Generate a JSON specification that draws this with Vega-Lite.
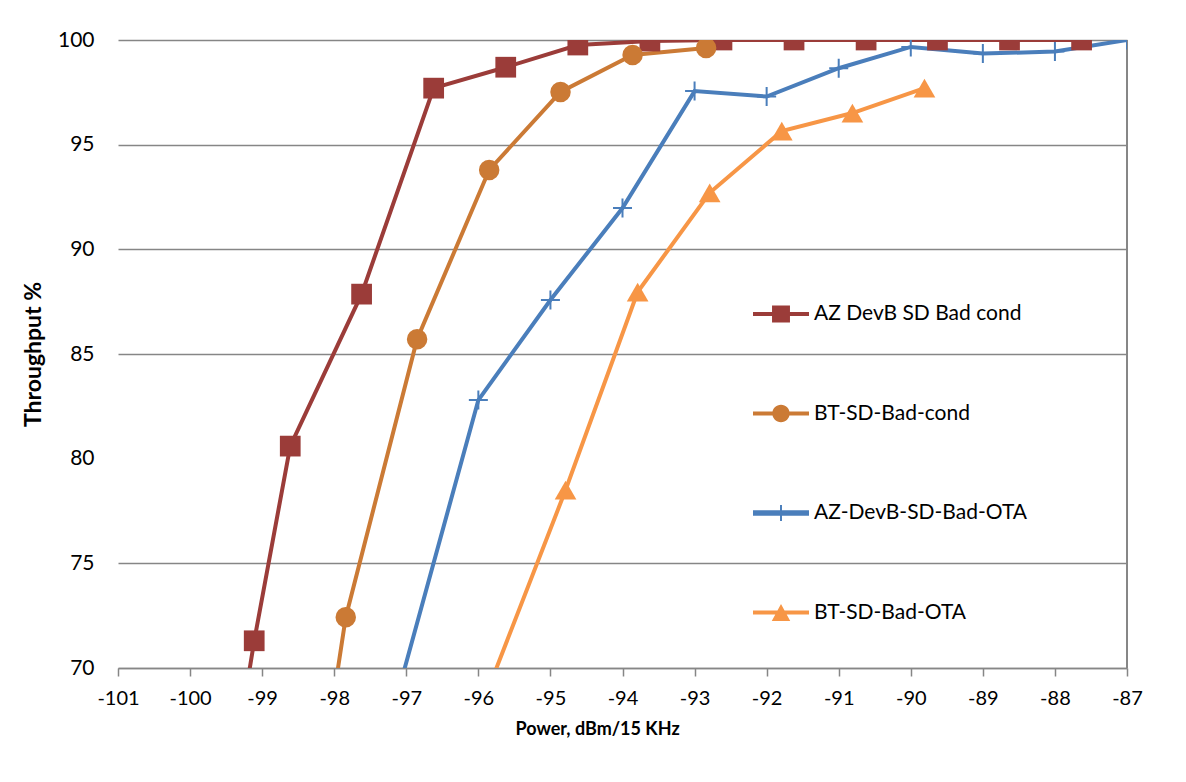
{
  "$schema": "https://vega.github.io/schema/vega-lite/v6.json",
  "width": 1009,
  "height": 628,
  "autosize": {"type": "none"},
  "padding": {"left": 118, "top": 40, "right": 59, "bottom": 114},
  "background": "white",
  "config": {"view": {"stroke": null}, "font": "Lato"},
  "data": {
    "values": [
      {"series": "AZ DevB SD Bad cond", "power": -99.5, "throughput": 63},
      {"series": "AZ DevB SD Bad cond", "power": -99.11, "throughput": 71.3},
      {"series": "AZ DevB SD Bad cond", "power": -98.61, "throughput": 80.6},
      {"series": "AZ DevB SD Bad cond", "power": -97.62, "throughput": 87.86},
      {"series": "AZ DevB SD Bad cond", "power": -96.62, "throughput": 97.7},
      {"series": "AZ DevB SD Bad cond", "power": -95.62, "throughput": 98.7},
      {"series": "AZ DevB SD Bad cond", "power": -94.62, "throughput": 99.76},
      {"series": "AZ DevB SD Bad cond", "power": -93.62, "throughput": 99.95},
      {"series": "AZ DevB SD Bad cond", "power": -92.62, "throughput": 100},
      {"series": "AZ DevB SD Bad cond", "power": -91.62, "throughput": 100},
      {"series": "AZ DevB SD Bad cond", "power": -90.62, "throughput": 100},
      {"series": "AZ DevB SD Bad cond", "power": -89.63, "throughput": 100},
      {"series": "AZ DevB SD Bad cond", "power": -88.63, "throughput": 100},
      {"series": "AZ DevB SD Bad cond", "power": -87.63, "throughput": 100},
      {"series": "BT-SD-Bad-cond", "power": -98.3, "throughput": 62},
      {"series": "BT-SD-Bad-cond", "power": -97.84, "throughput": 72.43},
      {"series": "BT-SD-Bad-cond", "power": -96.85, "throughput": 85.71},
      {"series": "BT-SD-Bad-cond", "power": -95.85, "throughput": 93.79},
      {"series": "BT-SD-Bad-cond", "power": -94.86, "throughput": 97.52},
      {"series": "BT-SD-Bad-cond", "power": -93.86, "throughput": 99.28},
      {"series": "BT-SD-Bad-cond", "power": -92.84, "throughput": 99.62},
      {"series": "AZ-DevB-SD-Bad-OTA", "power": -97.5, "throughput": 64},
      {"series": "AZ-DevB-SD-Bad-OTA", "power": -96, "throughput": 82.8},
      {"series": "AZ-DevB-SD-Bad-OTA", "power": -95, "throughput": 87.58},
      {"series": "AZ-DevB-SD-Bad-OTA", "power": -94, "throughput": 91.97},
      {"series": "AZ-DevB-SD-Bad-OTA", "power": -93, "throughput": 97.56},
      {"series": "AZ-DevB-SD-Bad-OTA", "power": -92, "throughput": 97.3},
      {"series": "AZ-DevB-SD-Bad-OTA", "power": -91, "throughput": 98.65},
      {"series": "AZ-DevB-SD-Bad-OTA", "power": -90, "throughput": 99.67},
      {"series": "AZ-DevB-SD-Bad-OTA", "power": -89, "throughput": 99.35},
      {"series": "AZ-DevB-SD-Bad-OTA", "power": -88, "throughput": 99.45},
      {"series": "AZ-DevB-SD-Bad-OTA", "power": -87, "throughput": 100},
      {"series": "BT-SD-Bad-OTA", "power": -96.2, "throughput": 66},
      {"series": "BT-SD-Bad-OTA", "power": -94.79, "throughput": 78.5},
      {"series": "BT-SD-Bad-OTA", "power": -93.79, "throughput": 87.96},
      {"series": "BT-SD-Bad-OTA", "power": -92.79, "throughput": 92.7},
      {"series": "BT-SD-Bad-OTA", "power": -91.79, "throughput": 95.65},
      {"series": "BT-SD-Bad-OTA", "power": -90.81, "throughput": 96.51},
      {"series": "BT-SD-Bad-OTA", "power": -89.81, "throughput": 97.7}
    ]
  },
  "layer": [
    {
      "mark": {"type": "rule", "color": "#868686", "strokeWidth": 1},
      "encoding": {
        "x": {"datum": -87, "type": "quantitative"}
      }
    },
    {
      "mark": {"type": "line", "strokeWidth": 4, "clip": true},
      "encoding": {
        "x": {
          "field": "power",
          "type": "quantitative",
          "scale": {"domain": [-101, -87], "nice": false, "zero": false},
          "axis": {
            "values": [-101, -100, -99, -98, -97, -96, -95, -94, -93, -92, -91, -90, -89, -88, -87],
            "labelExpr": "'' + datum.value",
            "title": "Power, dBm/15 KHz",
            "grid": false,
            "domainColor": "#868686",
            "domainWidth": 1.5,
            "tickColor": "#868686",
            "tickWidth": 1.5,
            "tickSize": 8,
            "labelFontSize": 20,
            "labelColor": "#000000",
            "labelPadding": 12,
            "labelFlush": false,
            "labelOverlap": false,
            "titleFontSize": 18,
            "titleFontWeight": "bold",
            "titleColor": "#000000",
            "titlePadding": 12,
            "titleAnchor": "start",
            "titleX": 397
          }
        },
        "y": {
          "field": "throughput",
          "type": "quantitative",
          "scale": {"domain": [70, 100], "nice": false, "zero": false},
          "axis": {
            "values": [70, 75, 80, 85, 90, 95, 100],
            "title": "Throughput %",
            "domain": false,
            "ticks": false,
            "grid": true,
            "gridColor": "#868686",
            "gridWidth": 1.5,
            "gridOpacity": {"condition": {"test": "datum.value === 80", "value": 0}, "value": 1},
            "labelFontSize": 21,
            "labelColor": "#000000",
            "labelPadding": 24,
            "titleFontSize": 23,
            "titleFontWeight": "bold",
            "titleColor": "#000000",
            "titlePadding": 12
          }
        },
        "color": {
          "field": "series",
          "type": "nominal",
          "scale": {
            "domain": ["AZ DevB SD Bad cond", "BT-SD-Bad-cond", "AZ-DevB-SD-Bad-OTA", "BT-SD-Bad-OTA"],
            "range": ["#9b3c39", "#cb7a35", "#4a7ebb", "#f79646"]
          },
          "legend": {
            "orient": "none",
            "legendX": 635,
            "legendY": 246,
            "title": null,
            "padding": 0,
            "symbolSize": 3136,
            "symbolStrokeWidth": 0,
            "labelFontSize": 21,
            "labelColor": "#000000",
            "labelOffset": 5,
            "labelLimit": 400,
            "rowPadding": 61.5,
            "encode": {
              "symbols": {
                "update": {
                  "shape": {"signal": "datum.value == 'AZ DevB SD Bad cond' ? 'M-1,-0.07H1V0.07H-1Z M-0.32,-0.3H0.32V0.3H-0.32Z' : datum.value == 'BT-SD-Bad-cond' ? 'M-1,-0.07H1V0.07H-1Z M-0.31,0A0.31,0.31,0,1,1,0.31,0A0.31,0.31,0,1,1,-0.31,0Z' : datum.value == 'AZ-DevB-SD-Bad-OTA' ? 'M-1,-0.1H1V0.1H-1Z M-0.035,-0.29H0.035V0.29H-0.035Z' : 'M-1,-0.07H1V0.07H-1Z M0,-0.3L0.33,0.3L-0.33,0.3Z'"},
                  "fill": {"scale": "color", "field": "value"},
                  "stroke": {"value": "transparent"},
                  "strokeWidth": {"value": 0},
                  "opacity": {"value": 1}
                }
              }
            }
          }
        }
      }
    },
    {
      "transform": [{"filter": "datum.series == 'AZ DevB SD Bad cond'"}],
      "mark": {"type": "point", "shape": "square", "filled": true, "opacity": 1, "size": 430, "clip": true, "color": "#9b3c39"},
      "encoding": {
        "x": {"field": "power", "type": "quantitative"},
        "y": {"field": "throughput", "type": "quantitative"}
      }
    },
    {
      "transform": [{"filter": "datum.series == 'BT-SD-Bad-cond'"}],
      "mark": {"type": "point", "shape": "circle", "filled": true, "opacity": 1, "size": 420, "clip": true, "color": "#cb7a35"},
      "encoding": {
        "x": {"field": "power", "type": "quantitative"},
        "y": {"field": "throughput", "type": "quantitative"}
      }
    },
    {
      "transform": [{"filter": "datum.series == 'AZ-DevB-SD-Bad-OTA'"}],
      "mark": {"type": "point", "shape": "M-0.95,-0.1H0.95V0.1H-0.95Z M-0.1,-0.95H0.1V0.95H-0.1Z", "filled": true, "opacity": 1, "size": 400, "clip": true, "color": "#4a7ebb"},
      "encoding": {
        "x": {"field": "power", "type": "quantitative"},
        "y": {"field": "throughput", "type": "quantitative"}
      }
    },
    {
      "transform": [{"filter": "datum.series == 'BT-SD-Bad-OTA'"}],
      "mark": {"type": "point", "shape": "triangle-up", "filled": true, "opacity": 1, "size": 470, "clip": true, "color": "#f79646"},
      "encoding": {
        "x": {"field": "power", "type": "quantitative"},
        "y": {"field": "throughput", "type": "quantitative"}
      }
    }
  ]
}
